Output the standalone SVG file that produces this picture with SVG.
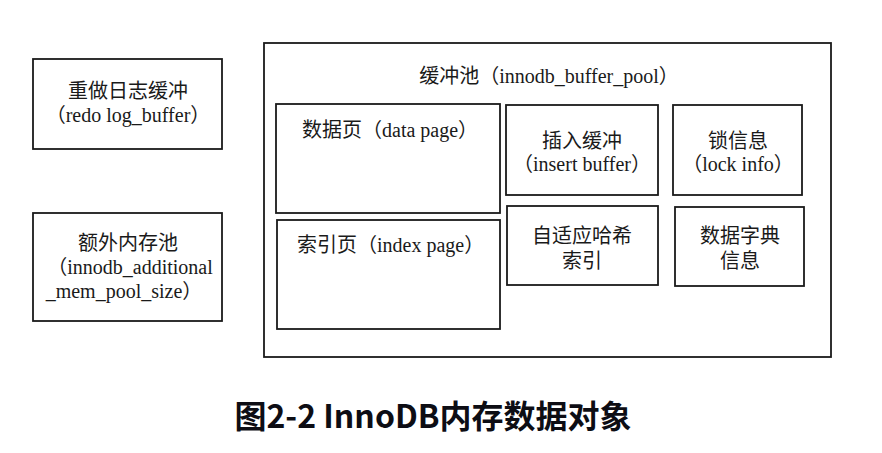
<svg xmlns="http://www.w3.org/2000/svg" width="882" height="453" viewBox="0 0 882 453">
<style>
.box{fill:#fff;stroke:#1a1a1a;stroke-width:1.8}
.t{font-family:"Liberation Serif","Noto Sans CJK SC",serif;font-size:20px;fill:#1a1a1a}
.c{text-anchor:middle}
.cap{font-family:"Noto Sans CJK SC","Noto Sans",sans-serif;font-size:32px;font-weight:bold;fill:#0d0d14;text-anchor:middle}
</style>
<rect width="882" height="453" fill="#fff"/>
<g id="redo">
<rect class="box" x="33" y="59" width="189" height="90"/>
<text class="t c" x="128" y="98">重做日志缓冲</text>
<text class="t c" x="128" y="122">（redo log_buffer）</text>
</g>
<g id="additional">
<rect class="box" x="33" y="213" width="189" height="108"/>
<text class="t c" x="128" y="250">额外内存池</text>
<text class="t c" x="130" y="274">（innodb_additional</text>
<text class="t c" x="124" y="298">_mem_pool_size）</text>
</g>
<g id="bufferpool">
<rect class="box" x="264" y="43" width="567" height="314" stroke-width="1.2"/>
<text class="t c" x="549" y="83">缓冲池（innodb_buffer_pool）</text>
</g>
<g id="datapage">
<rect class="box" x="276" y="104" width="224" height="109"/>
<text class="t" x="302" y="137">数据页（data page）</text>
</g>
<g id="indexpage">
<rect class="box" x="277" y="220" width="223" height="109"/>
<text class="t" x="297" y="252">索引页（index page）</text>
</g>
<g id="insertbuffer">
<rect class="box" x="506" y="105" width="152" height="90"/>
<text class="t c" x="582" y="148">插入缓冲</text>
<text class="t c" x="582" y="171">（insert buffer）</text>
</g>
<g id="lockinfo">
<rect class="box" x="673" y="105" width="129" height="90"/>
<text class="t c" x="738" y="148">锁信息</text>
<text class="t c" x="738" y="171">（lock info）</text>
</g>
<g id="hashindex">
<rect class="box" x="507" y="206" width="151" height="79"/>
<text class="t c" x="582" y="243">自适应哈希</text>
<text class="t c" x="582" y="268">索引</text>
</g>
<g id="dictionary">
<rect class="box" x="675" y="207" width="129" height="79"/>
<text class="t c" x="740" y="243">数据字典</text>
<text class="t c" x="740" y="268">信息</text>
</g>
<g id="connectors"></g>
<text class="cap" x="433" y="428">图2-2 InnoDB内存数据对象</text>
</svg>
